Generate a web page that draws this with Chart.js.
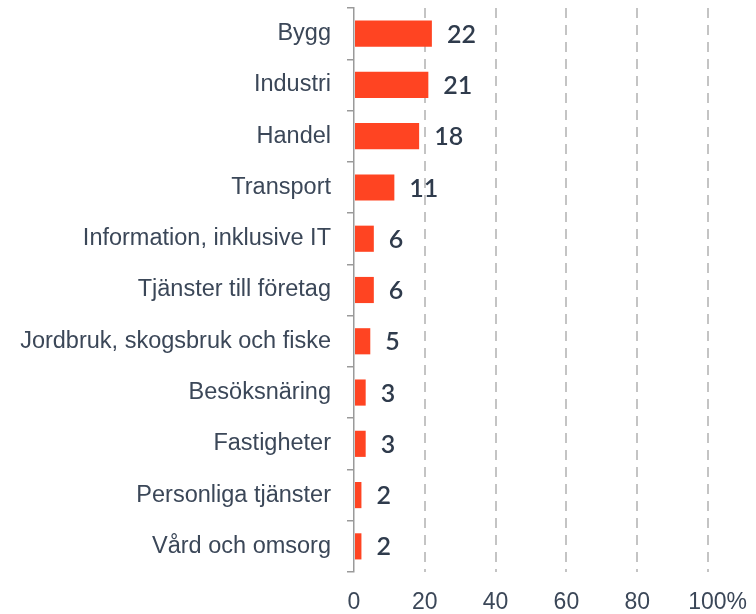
<!DOCTYPE html>
<html>
<head>
<meta charset="utf-8">
<script src="https://cdn.jsdelivr.net/npm/chart.js@4.4.1/dist/chart.umd.min.js"></script>
<style>
html,body{margin:0;padding:0;background:#fff;}
#wrap{width:756px;height:614px;position:relative;}
</style>
</head>
<body>
<div id="wrap"><canvas id="c" width="756" height="614"></canvas></div>
<script>
const categories = [
  "Bygg",
  "Industri",
  "Handel",
  "Transport",
  "Information, inklusive IT",
  "Tjänster till företag",
  "Jordbruk, skogsbruk och fiske",
  "Besöksnäring",
  "Fastigheter",
  "Personliga tjänster",
  "Vård och omsorg"
];
const shares = [22, 21, 18.4, 11.4, 5.6, 5.6, 4.6, 3.3, 3.3, 2.1, 2.1];
const valueLabels = ["22", "21", "18", "11", "6", "6", "5", "3", "3", "2", "2"];
const xTickValues = [0, 20, 40, 60, 80, 100];
const xTickLabels = ["0", "20", "40", "60", "80", "   100%"];

const textColor = "#3b4758";

const valueLabelPlugin = {
  id: "valueLabels",
  afterDatasetsDraw(chart) {
    const ctx = chart.ctx;
    const meta = chart.getDatasetMeta(0);
    ctx.save();
    ctx.fillStyle = "#2f3b4c";
    ctx.font = "600 25px Lato, 'Open Sans', sans-serif";
    ctx.textAlign = "left";
    ctx.textBaseline = "middle";
    meta.data.forEach((bar, i) => {
      ctx.fillText(valueLabels[i], bar.x + 15, bar.y + 1);
    });
    ctx.restore();
  }
};

new Chart(document.getElementById("c"), {
  type: "bar",
  data: {
    labels: categories,
    datasets: [{
      data: shares,
      backgroundColor: "#ff4422",
      borderWidth: 0,
      barPercentage: 0.51,
      categoryPercentage: 1.0
    }]
  },
  options: {
    indexAxis: "y",
    responsive: false,
    animation: false,
    devicePixelRatio: 1,
    layout: { padding: { left: 0, right: 48, top: 8, bottom: 0 } },
    plugins: {
      legend: { display: false },
      tooltip: { enabled: false }
    },
    scales: {
      x: {
        type: "linear",
        min: 0,
        max: 100,
        afterBuildTicks(axis) {
          axis.ticks = xTickValues.map(v => ({ value: v }));
        },
        afterFit(axis) { axis.height = 42; axis.paddingLeft = 0; axis.paddingRight = 0; },
        grid: {
          drawTicks: false,
          color: ctx => (ctx.tick && ctx.tick.value === 0) ? "rgba(0,0,0,0)" : "#c4c4c4",
          lineWidth: 2
        },
        border: { display: false, dash: [10, 7] },
        ticks: {
          padding: 17,
          color: textColor,
          font: { family: "'Liberation Sans', Arial, sans-serif", size: 23 },
          callback: (v, i) => xTickLabels[xTickValues.indexOf(v)],
          maxRotation: 0,
          autoSkip: false
        }
      },
      y: {
        afterFit(axis) { axis.width = 354; axis.paddingTop = 0; axis.paddingBottom = 0; },
        border: { display: true, color: "#9a9a9a", width: 1.5 },
        grid: {
          offset: true,
          drawOnChartArea: false,
          drawTicks: true,
          tickLength: 7,
          color: "#9a9a9a",
          lineWidth: 1.5
        },
        ticks: {
          padding: 16,
          color: textColor,
          font: { family: "'Liberation Sans', Arial, sans-serif", size: 23.5 },
          autoSkip: false
        }
      }
    }
  },
  plugins: [valueLabelPlugin]
});
</script>
</body>
</html>
